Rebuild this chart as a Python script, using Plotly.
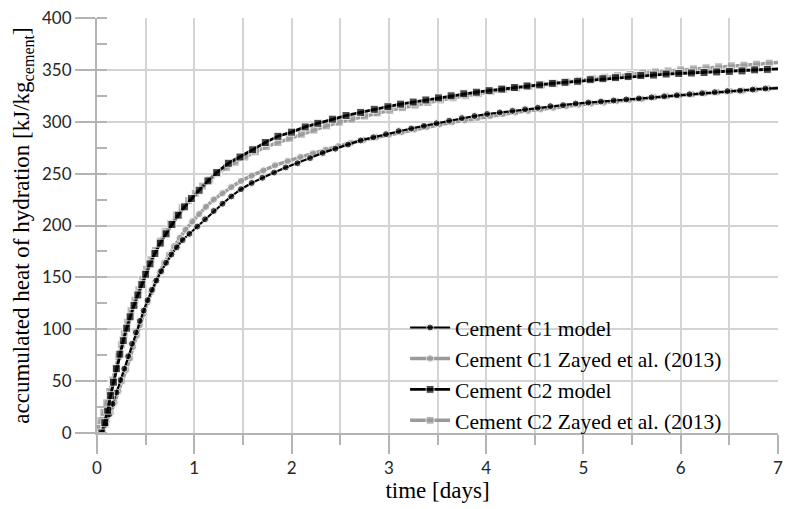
import plotly.graph_objects as go

# ---------------- data ----------------
c1_model_t = [0.05, 0.09, 0.125, 0.16, 0.20, 0.24, 0.28, 0.32, 0.36, 0.40, 0.44, 0.48, 0.52, 0.565, 0.61,
              0.66, 0.71, 0.765, 0.82, 0.88, 0.95, 1.03, 1.11, 1.20, 1.29, 1.38, 1.48, 1.59, 1.70, 1.82,
              1.94, 2.06, 2.19, 2.32, 2.45, 2.58, 2.71, 2.84, 2.97, 3.10, 3.23, 3.36, 3.49, 3.62, 3.75,
              3.88, 4.01, 4.14, 4.27, 4.40, 4.53, 4.66, 4.79, 4.92, 5.05, 5.18, 5.31, 5.44, 5.57, 5.70,
              5.83, 5.96, 6.09, 6.22, 6.35, 6.48, 6.61, 6.74, 6.87, 7.0]
c1_model_q = [0, 8, 18, 28, 39, 51, 62, 74, 86, 97, 108, 118, 128, 138, 147,
              156, 164, 172, 179, 186, 192, 199, 206, 214, 221, 228, 235, 241, 246, 251,
              256, 260, 265, 270, 274, 278, 282, 285, 288, 291, 293.5, 296, 298.5, 301, 303.5,
              305.5, 307.5, 309, 310.5, 312, 313.5, 315, 316, 317.5, 318.5, 319.5, 320.5, 321.5, 322.5, 323.5,
              324.5, 325.5, 326.5, 327.5, 328.5, 329.5, 330, 331, 332, 332.5]

c1_exp_t = [0.0, 0.05, 0.10, 0.14, 0.18, 0.22, 0.26, 0.30, 0.34, 0.37, 0.41, 0.44, 0.48, 0.52, 0.56,
            0.60, 0.645, 0.69, 0.74, 0.79, 0.85, 0.91, 0.98, 1.05, 1.12, 1.20, 1.29, 1.38, 1.48, 1.59,
            1.71, 1.83, 1.96, 2.09, 2.22, 2.35, 2.48, 2.61, 2.74, 2.87, 3.00, 3.13, 3.26, 3.39, 3.52,
            3.65, 3.78, 3.91, 4.04, 4.17, 4.30, 4.43, 4.56, 4.69, 4.82, 4.95, 5.08, 5.21, 5.34, 5.47,
            5.60, 5.73, 5.86, 5.99, 6.12, 6.25, 6.38, 6.51, 6.64, 6.77, 6.90, 7.0]
c1_exp_q = [4, 7, 11, 19, 29, 40, 50, 61, 72, 83, 94, 104, 115, 126, 136,
            146, 155, 164, 172, 180, 188, 196, 204, 211, 218, 225, 231, 237, 243, 248,
            253, 258, 262, 266, 269.5, 273, 276.5, 279.5, 282.5, 285, 287.5, 290, 292.5, 295, 297.5,
            299.5, 301.5, 303.5, 305.5, 307.5, 309, 310.5, 312, 313.5, 315, 316.5, 317.5, 318.5, 320, 321,
            322, 323.5, 324.5, 325.5, 326.5, 327.5, 328.5, 329.5, 330, 331, 332, 332.5]

c2_model_t = [0.05, 0.08, 0.11, 0.14, 0.17, 0.20, 0.235, 0.27, 0.305, 0.34, 0.38, 0.42, 0.46, 0.50, 0.545,
              0.595, 0.65, 0.71, 0.77, 0.835, 0.90, 0.97, 1.05, 1.14, 1.23, 1.35, 1.47, 1.60, 1.73, 1.86,
              2.00, 2.14, 2.27, 2.42, 2.56, 2.71, 2.85, 2.99, 3.12, 3.25, 3.38, 3.51, 3.64, 3.77, 3.90,
              4.03, 4.16, 4.29, 4.42, 4.55, 4.68, 4.81, 4.94, 5.07, 5.20, 5.33, 5.46, 5.59, 5.72, 5.85,
              5.98, 6.11, 6.24, 6.37, 6.50, 6.63, 6.76, 6.89, 7.0]
c2_model_q = [0, 10, 22, 36, 49, 62, 76, 89, 101, 112, 123, 133, 143, 153, 163,
              173, 183, 192, 201, 210, 218, 226, 234, 243, 251, 260, 266, 273, 280, 286,
              290, 295, 298.5, 302.5, 306, 309, 312, 314.5, 317, 319, 321, 323, 325, 327, 328.5,
              330, 331.5, 333, 334.5, 335.5, 337, 338, 339, 340.5, 341.5, 342.5, 343.5, 344.5, 345, 346,
              346.5, 347, 347.5, 348, 348.5, 349, 350, 350.5, 351]

c2_exp_t = [0.0, 0.04, 0.07, 0.10, 0.13, 0.16, 0.19, 0.22, 0.25, 0.28, 0.315, 0.35, 0.39, 0.43, 0.47,
            0.51, 0.555, 0.60, 0.65, 0.70, 0.755, 0.815, 0.875, 0.94, 1.01, 1.085, 1.16, 1.24, 1.33, 1.42,
            1.52, 1.63, 1.74, 1.86, 1.98, 2.10, 2.23, 2.36, 2.49, 2.62, 2.75, 2.88, 3.01, 3.14, 3.27,
            3.40, 3.53, 3.66, 3.79, 3.92, 4.05, 4.18, 4.31, 4.44, 4.57, 4.70, 4.83, 4.96, 5.09, 5.22,
            5.35, 5.48, 5.61, 5.74, 5.87, 6.00, 6.13, 6.26, 6.39, 6.52, 6.65, 6.78, 6.91, 7.0]
c2_exp_q = [5, 12, 20, 29, 40, 51, 62, 74, 85, 96, 107, 118, 128, 138, 148,
            158, 167, 176, 185, 194, 202, 210, 217, 224, 231, 238, 244, 250, 256, 261,
            266, 271, 276, 280, 284, 288, 292, 296, 299.5, 302.5, 305.5, 308.5, 311, 313.5, 316,
            318.5, 321, 323, 325, 327, 329, 331, 332.5, 334, 335.5, 337, 338.5, 340, 341.5, 343,
            344.5, 345.5, 347, 348, 349, 350, 351, 352, 353, 354, 354.5, 355.5, 356.5, 357]

series_names = ["Cement C1 model", "Cement C1 Zayed et al. (2013)",
                "Cement C2 model", "Cement C2 Zayed et al. (2013)"]

x_ticks = [0, 1, 2, 3, 4, 5, 6, 7]
y_ticks = [0, 50, 100, 150, 200, 250, 300, 350, 400]

# ---------------- styling ----------------
BLACK = "#000000"
GRAY = "#9b9b9b"
AXIS = "#b4b4b4"
GRID = "#d4d4d4"


def sizes(n, s):
    # last point only continues the line to the axis end (no marker)
    return [s] * (n - 1) + [0]


fig = go.Figure()

# gray (measured) series first so the model series sit on top
fig.add_trace(go.Scatter(
    x=c1_exp_t, y=c1_exp_q, name=series_names[1], mode="lines+markers", legendrank=2,
    line=dict(color=GRAY, width=3.5),
    marker=dict(symbol="circle", size=sizes(len(c1_exp_t), 7.5), color=GRAY)))
fig.add_trace(go.Scatter(
    x=c2_exp_t, y=c2_exp_q, name=series_names[3], mode="lines+markers", legendrank=4,
    line=dict(color=GRAY, width=3.5),
    marker=dict(symbol="square", size=sizes(len(c2_exp_t), 8), color=GRAY)))
fig.add_trace(go.Scatter(
    x=c1_model_t, y=c1_model_q, name=series_names[0], mode="lines+markers", legendrank=1,
    line=dict(color=BLACK, width=2.2),
    marker=dict(symbol="circle", size=sizes(len(c1_model_t), 7), color=BLACK)))
fig.add_trace(go.Scatter(
    x=c2_model_t, y=c2_model_q, name=series_names[2], mode="lines+markers", legendrank=3,
    line=dict(color=BLACK, width=2.8),
    marker=dict(symbol="square", size=sizes(len(c2_model_t), 8), color=BLACK)))

tick_font = dict(family="Lato, 'Open Sans', sans-serif", size=17, color="#262626")
serif = "'Liberation Serif', 'Times New Roman', serif"

fig.update_layout(
    width=787, height=509,
    margin=dict(l=97, r=9, t=18, b=76, autoexpand=False),
    paper_bgcolor="white", plot_bgcolor="white",
    showlegend=True,
    legend=dict(
        x=0.4524, y=0.3036, xanchor="left", yanchor="top",
        bgcolor="rgba(0,0,0,0)", borderwidth=0,
        font=dict(family=serif, size=21.5, color="#000000"),
        traceorder="normal", itemwidth=40,
    ),
    xaxis=dict(
        range=[0, 7], tickmode="array", tickvals=x_ticks, ticktext=[str(v) for v in x_ticks],
        automargin=False,
        showline=True, linecolor=AXIS, linewidth=2,
        ticks="outside", ticklen=19, tickwidth=2, tickcolor=AXIS,
        showgrid=True, gridcolor=GRID, gridwidth=1.5,
        zeroline=False,
        minor=dict(dtick=0.5, ticks="outside", ticklen=10, tickwidth=2, tickcolor=AXIS,
                   showgrid=True, gridcolor=GRID, gridwidth=1.5),
        tickfont=tick_font,
        title=dict(text="time [days]", font=dict(family=serif, size=23, color="#000000"), standoff=4),
    ),
    yaxis=dict(
        range=[0, 400], tickmode="array", tickvals=y_ticks, ticktext=[str(v) for v in y_ticks],
        automargin=False,
        showline=True, linecolor=AXIS, linewidth=2,
        ticks="outside", ticklen=20, tickwidth=2, tickcolor=AXIS,
        showgrid=True, gridcolor=GRID, gridwidth=1.5,
        zeroline=False,
        minor=dict(dtick=25, tick0=0, ticks="inside", ticklen=10, tickwidth=2, tickcolor=AXIS,
                   showgrid=False),
        tickfont=tick_font,
        title=dict(text="accumulated heat of hydration [kJ/kg<sub>cement</sub>]",
                   font=dict(family=serif, size=23, color="#000000"), standoff=6),
    ),
)

fig.write_html("out.html")
